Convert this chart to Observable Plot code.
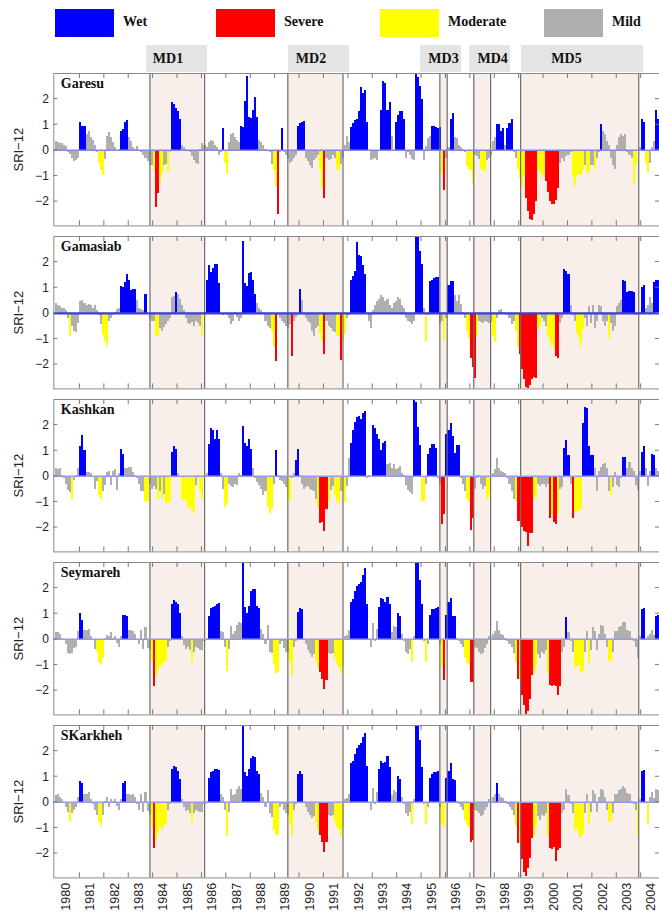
<!DOCTYPE html>
<html><head><meta charset="utf-8">
<script src="https://cdn.jsdelivr.net/npm/d3@7"></script>
<script src="https://cdn.jsdelivr.net/npm/@observablehq/plot@0.6"></script>
<style>
html,body{margin:0;padding:0;background:#fff;}
#root{position:relative;width:659px;height:916px;overflow:hidden;background:#fff;}
.lg-box{position:absolute;top:9px;height:28px;width:59px;}
.lg-txt{position:absolute;top:14px;font:bold 14px "Liberation Serif","Times New Roman",serif;color:#111;white-space:nowrap;}
</style></head><body><div id="root"></div>
<script>
// ---------------- data ----------------
const startYear = 1980;
const stations = ["Garesu", "Gamasiab", "Kashkan", "Seymareh", "SKarkheh"];
const categories = ["W", "S", "M", "L"];
const categoryNames = ["Wet", "Severe", "Moderate", "Mild"];
const categoryColors = ["#0000ff", "#ff0000", "#ffff00", "#afafaf"];
const mdNames = ["MD1", "MD2", "MD3", "MD4", "MD5"];
const mdStart = [1983.87, 1989.52, 1995.75, 1997.14, 1999.06];
const mdEnd = [1986.11, 1991.78, 1996.05, 1997.83, 2003.9];
const mdBoxStart = [1983.73, 1989.55, 1994.96, 1996.97, 1999.1];
const mdBoxEnd = [1986.23, 1992.05, 1996.64, 1998.65, 2004.1];
const mdLabelAt = [1984.61, 1990.47, 1995.9, 1997.91, 2000.94];
const yearLabels = d3.range(1980, 2005);
const yTicks = [-2, -1, 0, 1, 2];

const garesu = [
 0.35,0.3,0.25,0.25,0.2,0.15,-0.1,-0.15,-0.3,-0.45,-0.4,-0.3,
 1.1,0.95,0.95,0.6,0.75,0.5,0.4,0.2,-0.1,-0.5,-0.8,-1.0,
 -0.35,0.55,0.7,0.5,0.3,0.1,-0.05,0.05,0.75,0.8,1.1,1.15,
 0.5,0.35,0.1,0.05,0.15,-0.05,-0.1,-0.2,-0.3,-0.45,-0.6,-0.6,
 -0.8,-2.25,-1.7,-1.25,-0.95,-0.6,-0.55,-0.85,-0.1,1.85,1.8,1.65,
 1.5,1.2,0.2,0.1,0.05,-0.05,-0.1,-0.25,-0.4,-0.5,-0.55,0.05,
 0.25,0.2,0.1,0.3,0.4,0.35,0.2,0.1,-0.2,-0.1,0.85,-0.5,
 -0.95,0.3,0.6,0.65,0.5,0.4,0.3,0.95,0.9,1.9,2.9,1.3,
 1.25,1.55,2.05,1.3,0.4,0.3,0.2,0.05,-0.05,-0.1,-0.55,-0.8,
 -1.4,-2.5,-0.1,0.85,-0.1,-0.2,-0.35,-0.5,-0.45,-0.3,-0.2,0.95,
 1.05,1.1,1.12,-0.3,-0.45,-0.6,-0.7,-0.4,-0.3,-0.2,-0.8,-1.45,
 -1.9,-0.3,-0.4,-0.35,-0.2,-0.3,-0.75,-0.8,-0.55,-0.3,0.2,0.55,
 0.3,0.9,1.05,1.15,1.2,1.5,2.45,2.2,2.35,1.1,-0.05,-0.4,
 -0.35,-0.3,-0.4,0.0,1.55,2.7,2.6,1.55,1.85,0.55,-0.05,1.1,
 1.35,1.5,1.5,1.2,-0.3,-0.1,-0.2,-0.35,-0.4,2.95,2.85,2.5,
 2.0,-0.4,0.15,0.45,0.55,0.95,0.95,0.9,0.85,0.9,-0.95,-1.55,
 -0.3,0.1,1.2,1.45,0.5,0.45,0.2,0.1,0.05,-0.1,-0.65,-0.8,
 -0.8,-1.3,-0.2,-0.25,-0.35,-0.75,-0.8,-0.85,-0.4,-0.3,-0.2,0.35,
 0.5,1.0,1.0,0.75,0.85,0.2,0.85,1.05,1.2,-0.1,-0.3,-0.75,
 -1.1,-1.45,-1.0,-1.9,-2.4,-2.7,-2.75,-2.5,-2.0,-0.75,-0.85,-1.05,
 -0.95,-1.2,-1.65,-2.0,-2.1,-2.1,-1.95,-1.5,-0.5,-0.3,-0.45,-0.25,
 -0.2,-0.1,-1.05,-1.4,-1.0,-0.95,-1.0,-0.8,-0.6,-0.95,-0.85,-0.6,
 -0.6,-0.75,-0.3,-0.1,1.0,0.75,0.6,0.35,0.2,-0.3,-0.6,-0.75,
 0.2,0.5,0.6,0.55,0.6,-0.1,-0.2,-0.3,-1.3,-0.6,-0.05,0.1,
 1.2,1.1,-0.5,-0.85,-0.5,0.1,0.35,1.55,1.2
];
const garesuClass = ["LLLLLLLLLLLL","WWWLLLLLLMMM","LLLLLLLLWWWW","LLLLLLLLLLLL","MSSMMLLMLWWW","WWLLLLLLLLLL","LLLLLLLLLLWM","MLLLLLLWWWWW","WWWWLLLLLLLM","MSLWLLLLLLLW","WWWLLLLLLLMM","SLLLLLMMLLLL","LWWWWWWWWWLL","LLLLWWWWWLLW","WWWWLLLLLWWW","WLLLLWWWWWMS","LLWWLLLLLLMM","MMLLLMMMLLLL","LWWWWLWWWLLM","MMMSSSSSSMMM","MSSSSSSSLLLL","LLMMMMMMLMML","LMLLWLLLLLLL","LLLLLLLLMMLL","WWMMLLLWW"];

const gamasiab = [
 0.4,0.3,0.25,0.2,0.2,0.1,-0.2,-0.9,-0.5,-0.7,-0.75,-0.4,
 0.45,0.5,0.4,0.3,0.35,0.3,0.2,0.3,0.1,-0.1,-0.45,-0.85,
 -1.1,-1.25,-0.3,-0.2,-0.1,0.05,0.15,0.2,1.05,1.0,1.2,1.5,
 1.3,0.9,0.95,0.95,0.5,0.2,0.15,0.1,0.75,-0.05,-0.25,-0.3,
 -0.3,-0.85,-0.9,-0.6,-0.7,-0.55,-0.45,-0.3,-0.2,0.6,0.65,0.8,
 0.75,0.55,0.3,0.1,-0.2,-0.4,-0.45,-0.35,-0.5,-0.3,-0.4,-0.5,
 -0.85,0.05,1.3,1.85,1.6,1.75,1.9,1.9,1.15,0.0,-0.1,-0.05,
 -0.1,-0.2,-0.45,-0.3,0.05,-0.15,-0.3,-0.2,2.8,1.15,1.05,1.55,
 1.6,1.3,0.75,0.4,0.2,0.1,-0.05,-0.3,-0.5,-0.6,-0.7,-1.3,
 -1.9,-0.1,-0.2,-0.3,-0.4,-0.5,-0.6,-0.45,-1.7,-0.3,-0.15,-0.1,
 0.95,0.5,-0.1,-0.2,-0.3,-0.4,-0.7,-0.9,-0.6,-0.5,-0.8,-1.1,
 -1.6,-0.3,-0.5,-0.6,-0.7,-0.75,-0.85,-0.9,-1.85,-1.1,-0.8,-0.2,
 -0.1,1.3,1.45,1.65,2.75,2.25,2.2,1.85,1.5,-0.05,-0.3,-0.6,
 0.1,0.3,0.45,0.55,0.7,0.6,0.45,0.55,0.3,0.2,0.4,0.45,
 0.6,0.55,0.3,0.2,-0.2,-0.3,-0.35,-0.45,-0.3,3.0,3.0,2.4,
 1.9,0.2,-1.1,-0.1,1.25,1.3,1.35,1.4,1.4,-0.45,-0.3,-1.1,
 -0.2,1.1,1.25,1.25,0.7,0.45,0.7,0.35,0.05,-0.2,-0.7,-1.0,
 -1.75,-2.1,-2.55,-0.85,-0.3,-0.35,-0.4,-0.3,-0.35,-0.4,-0.35,-0.9,
 -1.15,-0.2,0.1,0.15,0.05,0.05,-0.1,-0.2,-0.45,-0.3,-0.7,-1.3,
 -1.6,-2.2,-2.6,-2.9,-2.95,-2.8,-2.6,-2.5,-2.55,-0.6,-0.5,-0.2,
 -0.3,-0.5,-0.9,-1.1,-1.25,-1.4,-1.7,-1.75,-0.4,-0.2,1.7,1.65,
 1.5,0.3,-0.1,-0.3,-0.8,-1.0,-1.3,-0.65,-0.2,-0.5,0.25,-0.4,
 0.3,-0.6,-0.3,0.3,0.25,-0.3,-0.5,-0.3,-1.0,-0.4,-0.7,-0.5,
 0.25,0.4,0.5,1.3,1.25,0.8,0.85,0.85,0.8,-0.1,-0.05,0.05,
 1.0,1.1,0.2,0.3,0.6,0.4,1.2,1.3,1.3
];
const gamasiabClass = ["LLLLLLLMLLLL","LLLLLLLLLLLM","MMLLLLLLWWWW","WWWWLLLLWLLL","LMMLLLLLLLLW","LLLLLLLLLLLL","MLWWWWWWWLLL","LLLLLLLLWWWW","WWWLLLLLLLMM","SLLLLLLLSLLL","WLLLLLLLLLMM","SLLLLLMMSMML","LWWWWWWWWLLL","LLLLLLLLLLLL","LLLLLLLLLWWW","WLMLWWWWWLLM","LWWWLLLLLLMM","SSSMLLLLLLLM","MLLLLLLLLLMM","SSSSSSSSSMML","LLMMMMSSLLWW","WLLLMMMMLLLL","LLLLLLLLMLLL","LLLWWWWWWLLL","WWLLLLWWW"];

const kashkan = [
 0.3,0.25,0.3,0.05,-0.1,-0.3,-0.55,-0.65,-0.9,-0.15,0.05,0.3,
 1.15,1.6,1.0,0.15,0.15,0.1,-0.05,-0.5,-0.2,-0.75,-0.9,-0.6,
 -0.35,0.15,0.2,-0.35,0.2,0.25,-0.55,0.1,1.05,0.85,0.3,0.3,
 0.35,0.35,0.15,0.05,-0.1,-0.3,-0.6,-0.6,-1.0,-1.0,-0.3,-0.5,
 -0.4,-0.5,-0.9,-0.6,-0.85,-0.7,-1.05,-1.05,-1.0,0.95,1.15,1.05,
 0.1,-0.05,-0.9,-1.0,-0.95,-1.25,-1.2,-1.35,-1.45,-0.35,0.05,-0.6,
 -0.9,0.05,0.1,1.25,1.85,1.8,1.45,1.8,1.45,0.1,-0.5,-1.2,
 -1.05,-0.3,-0.4,-0.45,-0.3,-0.35,0.1,0.05,1.95,1.3,1.15,1.45,
 1.05,0.3,-0.1,-0.25,-0.35,-0.5,-0.75,-0.6,-1.2,-1.45,-1.3,-0.3,
 1.0,0.05,-0.15,-0.2,-0.3,-0.45,-0.7,-1.0,-0.1,0.1,0.6,1.05,
 0.05,-0.3,-0.5,-0.45,-0.4,-0.5,-0.55,-0.6,-0.9,-1.2,-1.85,-1.8,
 -2.15,-1.3,-1.0,-0.55,-0.4,-0.75,-1.0,-1.05,-0.6,-0.6,-1.0,-0.4,
 0.7,1.3,1.8,2.1,2.3,2.35,2.2,2.45,2.55,-0.1,0.05,0.0,
 2.0,1.85,1.65,1.45,1.0,1.3,1.35,0.45,0.5,0.3,0.45,0.25,
 0.3,0.4,0.1,0.05,-0.35,-0.55,-0.65,-0.7,2.95,2.9,1.9,1.2,
 -1.0,-1.0,-0.3,0.85,1.1,1.25,1.25,1.1,-0.1,-0.3,-1.9,-1.5,
 1.65,1.8,2.05,1.55,0.9,1.2,1.2,-0.1,-0.3,-0.6,-0.9,-1.0,
 -2.1,-1.65,-0.5,-0.1,0.05,-0.3,-0.5,-0.4,-0.9,-0.7,0.05,0.1,
 0.25,0.7,0.3,0.2,0.15,0.1,-0.1,-0.3,-0.6,-0.9,-1.0,-1.75,
 -1.75,-2.0,-2.15,-2.2,-2.75,-2.25,-2.25,-0.8,-0.9,-0.3,-0.4,-0.3,
 -0.3,-0.45,-0.3,-1.65,-1.5,-1.8,-1.9,-1.5,-0.5,-0.45,1.1,1.4,
 0.8,-0.3,-1.65,-1.4,-1.4,-1.35,-1.3,2.05,2.7,2.65,1.15,0.8,
 0.8,0.3,-0.6,0.2,0.35,0.45,0.5,0.3,-0.6,-0.75,-0.45,0.15,
 -0.35,-0.45,-0.1,0.75,0.75,0.3,0.55,0.3,0.2,-0.35,-0.55,0.2,
 0.95,1.15,0.3,-0.4,0.2,0.85,0.8,0.3,0.2
];
const kashkanClass = ["LLLLLLLLMLLL","WWWLLLLLLMML","LLLLLLLLWWLL","LLLLLLLLMMLL","LLMLMLMMMWWW","LLMMMMMMMLLM","MLLWWWWWWLLM","MLLLLLLLWWWW","WLLLLLLLMMML","WLLLLLMMLLWW","LLLLLLLLLMSS","SSMLLMMMLMML","LWWWWWWWWLLL","WWWWWWWLLLLL","LLLLLLLLWWWW","MMLWWWWWLLSS","WWWWWWWLLLMM","SSLLLLLLMMLL","LLLLLLLLLLMS","SSSSSSSMMLLL","LLLSMSSMLLWW","WLSMMMMWWWWW","WLLLLLLLLMLL","LLLWWLLLLLLL","WWLLLWWLL"];

const seymareh = [
 0.25,0.25,0.2,0.05,0.0,-0.2,-0.55,-0.6,-0.55,-0.35,-0.3,0.3,
 1.0,0.75,0.35,0.35,0.4,0.1,-0.05,-0.4,-0.5,-0.9,-1.0,-0.75,
 0.05,0.15,0.1,0.25,0.05,0.1,-0.15,-0.3,0.1,0.95,0.95,0.9,
 0.35,0.35,0.3,0.2,-0.05,-0.2,0.35,-0.4,0.45,-0.35,-0.45,-0.85,
 -1.85,-1.4,-1.2,-1.0,-1.1,-0.9,-0.85,-0.3,-0.1,1.35,1.5,1.45,
 1.35,1.0,0.1,-0.25,-0.4,-0.3,-0.45,-0.9,-0.5,-0.3,-0.35,-0.45,
 -0.45,-0.1,0.05,0.9,1.2,1.25,1.3,1.35,1.4,0.3,0.25,-0.3,
 -1.25,-0.4,0.5,0.2,0.3,0.55,0.65,0.6,3.0,1.25,1.0,1.3,
 1.85,1.95,1.95,1.3,1.2,0.4,0.2,-0.2,0.55,-0.5,-0.55,-1.0,
 -1.35,-1.3,-0.2,-0.1,-0.35,-0.5,-0.55,-0.9,-1.4,-0.3,-0.1,1.05,
 1.2,1.15,0.05,-0.2,-0.45,-0.55,-0.7,-0.6,-0.85,-1.1,-1.3,-1.55,
 -1.95,-1.6,-0.55,-0.6,-0.55,-0.75,-1.0,-1.1,-1.35,-1.05,0.1,0.15,
 0.35,1.45,1.55,1.85,2.05,2.15,2.2,2.5,2.75,1.35,-0.05,-0.3,
 0.6,-0.1,0.4,1.25,1.6,1.55,1.45,1.65,1.35,0.25,0.5,0.45,
 1.0,0.9,0.2,-0.1,-0.5,-0.6,-0.4,-0.9,0.1,3.0,3.0,2.3,
 1.35,-0.1,-0.9,-0.2,0.95,1.15,1.15,1.2,1.25,-0.2,-1.05,-1.6,
 0.95,1.45,1.6,0.9,0.9,0.05,-0.1,-0.2,-0.3,-0.75,-0.95,-1.0,
 -1.7,-1.7,-0.3,-0.35,-0.5,-0.6,-0.55,-0.35,-0.2,0.1,0.05,0.2,
 0.3,0.7,0.35,0.2,0.15,0.05,-0.1,-0.2,-0.3,-0.55,-0.9,-1.55,
 -1.55,-2.2,-2.6,-2.95,-2.8,-2.35,-1.4,-1.35,-1.05,-0.6,-0.75,-0.5,
 -0.6,-0.45,-1.35,-1.8,-1.85,-1.8,-1.85,-2.2,-1.85,-0.5,-0.3,0.85,
 0.25,-0.1,-0.5,-1.1,-1.05,-1.05,-1.35,-1.25,-0.5,0.3,-0.95,-0.45,
 0.45,0.3,-0.45,0.2,0.55,0.5,0.2,-0.3,-0.85,-0.85,-0.5,0.3,
 0.3,0.45,0.5,0.65,0.65,0.35,0.3,0.05,-0.1,-0.3,-0.75,0.1,
 1.15,1.2,0.05,0.1,0.2,0.35,0.15,0.9,0.95
];
const seymarehClass = ["LLLLLLLLLLLL","WWLLLLLLMMMM","LLLLLLLLLWWW","LLLLLLLLLLLM","SMMMMMMLLWWW","WWLLLLLMLLLL","LLLWWWWWWLLL","MLLLLLLLWWWW","WWWWWLLLLLLM","MMLLLLLMMLLW","WWLLLLLLMMSS","SSLLLMMMMMLL","LWWWWWWWWWLL","LLLWWWWWWLLL","WWLLLLLMLWWW","WLMLWWWWWLMS","WWWWWLLLLMMM","SSLLLLLLLLLL","LLLLLLLLLLMS","MSSSSSSMMLLL","LLMSSSSSSLLW","LLLMMMMMLLML","LLLLLLLLMMLL","LLLLLLLLLLLL","WWLLLLLWW"];

const skarkheh = [
 0.25,0.3,0.2,0.1,-0.05,-0.2,-0.4,-0.75,-0.45,-0.3,-0.2,0.2,
 0.8,0.75,0.3,0.3,0.4,0.1,-0.1,-0.3,-0.5,-0.8,-0.9,-0.5,
 0.05,0.2,-0.2,0.1,0.05,0.1,-0.15,-0.3,0.1,0.75,0.8,0.3,
 0.3,0.25,0.3,0.2,-0.1,-0.3,0.3,-0.4,0.4,-0.35,-0.5,-1.0,
 -1.8,-1.5,-1.2,-1.0,-1.1,-0.9,-0.85,-0.3,-0.1,1.3,1.4,1.35,
 1.2,0.9,0.1,-0.2,-0.35,-0.3,-0.45,-0.8,-0.45,-0.3,-0.35,-0.4,
 -0.4,-0.1,0.05,0.95,1.15,1.2,1.3,1.3,1.25,0.3,0.2,-0.3,
 -1.35,-0.4,0.5,0.25,0.3,0.5,0.6,0.5,3.0,1.15,1.0,1.3,
 1.7,1.8,1.75,1.2,1.1,0.35,0.2,-0.2,0.45,-0.45,-0.6,-1.1,
 -1.3,-1.25,-0.2,-0.1,-0.3,-0.45,-0.5,-0.85,-1.3,-0.3,-0.1,1.1,
 1.2,1.1,0.05,-0.2,-0.4,-0.5,-0.65,-0.55,-0.8,-1.1,-1.3,-1.55,
 -1.95,-1.55,-0.5,-0.55,-0.5,-0.8,-1.0,-1.05,-1.3,-1.0,0.1,0.15,
 0.3,1.5,1.6,1.85,2.1,2.2,2.3,2.55,2.7,1.4,-0.05,-0.3,
 0.55,-0.1,0.4,1.3,1.6,1.5,1.55,1.8,1.35,0.25,0.45,0.4,
 1.0,0.9,0.2,-0.1,-0.45,-0.55,-0.4,-0.85,0.1,3.0,3.0,2.4,
 1.35,-0.1,-0.85,-0.2,0.95,1.1,1.15,1.15,1.2,-0.2,-0.85,-1.0,
 0.95,1.2,1.5,0.9,0.85,0.05,-0.1,-0.2,-0.3,-0.7,-0.9,-1.0,
 -1.55,-1.5,-0.3,-0.35,-0.45,-0.55,-0.5,-0.3,-0.2,0.1,0.05,0.2,
 0.3,0.75,0.3,0.2,0.15,0.05,-0.1,-0.2,-0.3,-0.5,-0.9,-1.6,
 -1.6,-2.25,-2.75,-2.9,-2.6,-2.2,-1.4,-1.35,-1.0,-0.55,-0.7,-0.5,
 -0.55,-0.45,-1.35,-1.8,-1.85,-1.75,-2.3,-1.9,-1.8,-0.45,-0.3,0.5,
 0.25,-0.1,-0.45,-1.1,-1.05,-1.3,-1.4,-1.2,-0.45,0.3,-0.85,-0.4,
 0.45,0.3,-0.4,0.2,0.5,0.45,0.2,-0.3,-0.8,-0.75,-0.45,0.3,
 0.3,0.45,0.5,0.6,0.55,0.35,0.3,0.05,-0.1,-0.3,-1.35,0.1,
 1.2,1.25,0.05,-0.85,0.2,0.4,0.15,0.5,0.45
];
const skarkhehClass = ["LLLLLLLMLLLL","WWLLLLLLLMML","LLLLLLLLLWWL","LLLLLLLLLLLM","SMMMMMMLLWWW","WWLLLLLMLLLL","LLLWWWWWWLLL","MLLLLLLLWWWW","WWWWWLLLLLLM","MMLLLLLMMLLW","WWLLLLLLMMSS","SSLLLMMMMMLL","LWWWWWWWWWLL","LLLWWWWWWLLL","WWLLLLLMLWWW","WLMLWWWWWLMM","WWWWWLLLLMMM","SSLLLLLLLLLL","LWLLLLLLLLMS","MSSSSSSMMLLL","LLMSSSSSSLLL","LLLMMMMMLLML","LLLLLLLLMMLL","LLLLLLLLLLML","WWLMLLLLL"];

const seriesValues = [garesu, gamasiab, kashkan, seymareh, skarkheh];
const seriesClasses = [garesuClass, gamasiabClass, kashkanClass, seymarehClass, skarkhehClass];

// ---------------- layout ----------------
const W = 659;
const xDomain = [1979.93, 2004.75];
const yDomain = [-2.95, 3];
const mL = 53.3;
const panelH = 152.4;
const panelTop0 = 73.3;
const panelStep = 162.95;
const sans = '"Liberation Sans", Arial, sans-serif';
const serif = '"Liberation Serif", "Times New Roman", serif';
const shadeColor = "#f8eeea";
const zeroColors = ["#8787de", "#3b3bde", "#9a9ae2", "#9a9ae2", "#9a9ae2"];
const zeroWidths = [1.5, 2.2, 1.5, 1.5, 1.5];

const root = document.getElementById("root");

// legend
categoryNames.forEach((name, i) => {
  const boxLeft = [55, 216, 380, 544][i];
  const b = document.createElement("div");
  b.className = "lg-box"; b.style.left = boxLeft + "px"; b.style.background = categoryColors[i];
  root.appendChild(b);
  const t = document.createElement("div");
  t.className = "lg-txt"; t.style.left = (boxLeft + 68) + "px"; t.textContent = name;
  root.appendChild(t);
});

// MD header strip
const mdIdx = d3.range(mdNames.length);
const header = Plot.plot({
  width: W, height: 27, marginLeft: mL, marginRight: 0, marginTop: 0, marginBottom: 0,
  style: {background: "transparent", overflow: "visible"},
  x: {type: "linear", domain: xDomain, axis: null},
  marks: [
    Plot.rect(mdIdx, {x1: i => mdBoxStart[i], x2: i => mdBoxEnd[i], fill: "#e4e4e4"}),
    Plot.text(mdIdx, {x: i => mdLabelAt[i], text: i => mdNames[i], frameAnchor: "middle",
      fontWeight: "bold", fontFamily: serif, fontSize: 14, fill: "#111"})
  ]
});
header.style.position = "absolute"; header.style.left = "0px"; header.style.top = "45px";
root.appendChild(header);

// inward ticks on all four sides of the frame
function frameTicks(index, scales, values, dim) {
  const g = d3.create("svg:g").attr("stroke", "#777").attr("stroke-width", 1).attr("fill", "none");
  const top = dim.marginTop, bot = dim.height - dim.marginBottom;
  const left = dim.marginLeft, right = dim.width - dim.marginRight;
  for (const yr of yearLabels.slice(1)) {
    const x = scales.x(yr);
    g.append("line").attr("x1", x).attr("x2", x).attr("y1", top).attr("y2", top + 5);
    g.append("line").attr("x1", x).attr("x2", x).attr("y1", bot).attr("y2", bot - 5);
  }
  for (const v of yTicks) {
    const y = scales.y(v);
    g.append("line").attr("x1", left).attr("x2", left + 4).attr("y1", y).attr("y2", y);
    g.append("line").attr("x1", right).attr("x2", right - 4).attr("y1", y).attr("y2", y);
  }
  return g.node();
}

stations.forEach((name, i) => {
  const vals = seriesValues[i];
  const cls = seriesClasses[i].join("");
  const data = vals.map((v, k) => ({t0: startYear + k / 12, t1: startYear + (k + 1) / 12, v, c: cls[k]}));
  const last = i === stations.length - 1;
  const mt = 1, mb = last ? 38 : 1;
  const marks = [
    Plot.rect(mdIdx, {x1: j => mdStart[j], x2: j => mdEnd[j], fill: shadeColor}),
    Plot.rect(data, {x1: "t0", x2: "t1", y1: 0, y2: "v", fill: "c", clip: true, shapeRendering: "crispEdges"}),
    Plot.ruleX([...mdStart, ...mdEnd], {stroke: "#6c6c6c", strokeWidth: 1.2}),
    Plot.ruleY([0], {stroke: zeroColors[i], strokeWidth: zeroWidths[i]}),
    Plot.frame({stroke: "#8a8a8a"}),
    frameTicks,
    Plot.axisY(yTicks, {tickSize: 0, tickPadding: 5, label: null, fontSize: 12, fill: "#222"}),
    Plot.text([name], {frameAnchor: "top-left", dx: 7, dy: 5, fontWeight: "bold",
      fontFamily: serif, fontSize: 14, fill: "#111"}),
    Plot.text(["SRI\u221212"], {frameAnchor: "left", textAnchor: "middle", rotate: -90, dx: -35,
      fontSize: 13, fill: "#222"})
  ];
  if (last) {
    marks.push(Plot.axisX(yearLabels.map(y => y + 0.42), {tickSize: 0, tickRotate: -90, tickPadding: 5,
      tickFormat: d => String(Math.floor(d)), label: null, fontSize: 12.5, fill: "#222"}));
  }
  const svg = Plot.plot({
    width: W, height: panelH + mt + mb,
    marginLeft: mL, marginRight: 0, marginTop: mt, marginBottom: mb,
    style: {fontFamily: sans, fontSize: "12px", color: "#222", background: "transparent"},
    x: last ? {type: "linear", domain: xDomain} : {type: "linear", domain: xDomain, axis: null},
    y: {domain: yDomain},
    color: {domain: categories, range: categoryColors},
    marks
  });
  svg.style.position = "absolute";
  svg.style.left = "0px";
  svg.style.top = (panelTop0 - mt + i * panelStep) + "px";
  root.appendChild(svg);
});
</script></body></html>
